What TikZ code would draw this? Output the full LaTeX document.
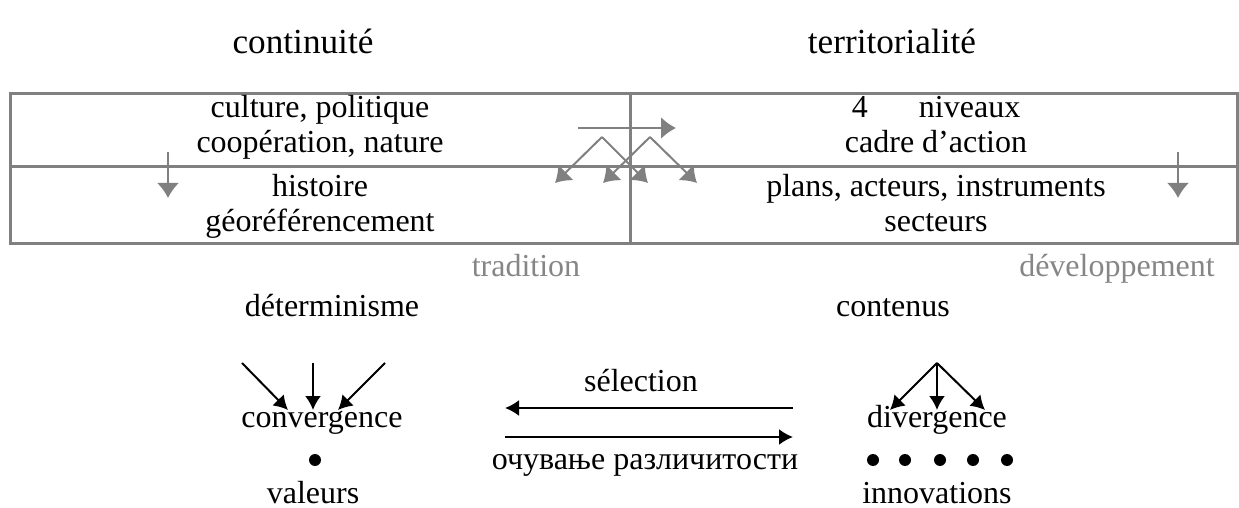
\documentclass[tikz,border=0pt]{standalone}
\usepackage{fontspec}
\setmainfont{Liberation Serif}
\usetikzlibrary{arrows.meta}
\begin{document}
\begin{tikzpicture}[x=0.5pt,y=-0.5pt,
  txt/.style={font=\fontsize{16}{17.5}\selectfont,inner sep=0pt,anchor=base},
  head/.style={txt,font=\fontsize{17.6}{20}\selectfont},
  greytxt/.style={txt,text=gray!95},
  frame/.style={gray,line width=1.5pt},
  garrow/.style={gray,line width=1pt,-{Latex[length=7.5pt,width=11pt]}},
  barrow/.style={black,line width=1pt,-{Latex[length=7pt,width=8pt]}},
  dot/.style={circle,fill=black,inner sep=0pt,minimum size=6pt}]
\useasboundingbox (0,0) rectangle (1239,508);
% headings
\node[head] (cont) at (303,54) {continuité};
\node[head] (terr) at (892,54) {territorialité};
% table
\draw[frame] (10,94) rectangle (1237,244);
\draw[frame] (10,167) -- (1237,167);
\draw[frame] (630,94) -- (630,244);
\node[txt] (cult) at (320,118) {culture, politique};
\node[txt] (coop) at (320,153) {coopération, nature};
\node[txt] (hist) at (320,197) {histoire};
\node[txt] (geo) at (320,232) {géoréférencement};
\node[txt] (niv) at (936,118) {4\hspace{1.6em}niveaux};
\node[txt] (cadre) at (936,153) {cadre d’action};
\node[txt] (plans) at (936,197) {plans, acteurs, instruments};
\node[txt] (sect) at (936,232) {secteurs};
% gray arrows in the table
\coordinate (ls) at (168,152);
\coordinate (le) at (168,198);
\draw[garrow] (ls) -- (le);
\coordinate (rs) at (1178,152);
\coordinate (re) at (1178,198);
\draw[garrow] (rs) -- (re);
\coordinate (hs) at (578,128);
\coordinate (he) at (676,128);
\draw[garrow] (hs) -- (he);
\coordinate (p1) at (602,137);
\coordinate (p2) at (650,137);
\coordinate (t1) at (555,183);
\coordinate (t2) at (648,183);
\coordinate (t3) at (603,183);
\coordinate (t4) at (697,183);
\draw[garrow] (p1) -- (t1);
\draw[garrow] (p1) -- (t2);
\draw[garrow] (p2) -- (t3);
\draw[garrow] (p2) -- (t4);
\node[greytxt] (trad) at (526,277) {tradition};
\node[greytxt] (dev) at (1117,277) {développement};
% lower part
\node[txt] (det) at (332,316) {déterminisme};
\node[txt] (contenus) at (893,316) {contenus};
\node[txt] (conv) at (322,427) {convergence};
\coordinate (c1) at (242,363);
\coordinate (c2) at (313,363);
\coordinate (c3) at (385,363);
\coordinate (ct1) at (288,410);
\coordinate (ct2) at (313,410);
\coordinate (ct3) at (338,410);
\draw[barrow] (c1) -- (ct1);
\draw[barrow] (c2) -- (ct2);
\draw[barrow] (c3) -- (ct3);
\node[dot] (vd) at (315,460) {};
\node[txt] (val) at (313,503) {valeurs};
\node[txt] (sel) at (641,392) {sélection};
\coordinate (sa) at (793,408);
\coordinate (sb) at (505,408);
\draw[barrow] (sa) -- (sb);
\coordinate (oa) at (505,437);
\coordinate (ob) at (793,437);
\draw[barrow] (oa) -- (ob);
\node[txt] (ocuv) at (645,469) {очување различитости};
\node[txt] (div) at (937,427) {divergence};
\coordinate (dp) at (937,363);
\coordinate (d1) at (890,410);
\coordinate (d2) at (937,410);
\coordinate (d3) at (985,410);
\draw[barrow] (dp) -- (d1);
\draw[barrow] (dp) -- (d2);
\draw[barrow] (dp) -- (d3);
\foreach \i/\x in {1/873,2/905,3/940,4/973,5/1007}
  \node[dot] (id\i) at (\x,460) {};
\node[txt] (innov) at (937,503) {innovations};
\end{tikzpicture}
\end{document}
